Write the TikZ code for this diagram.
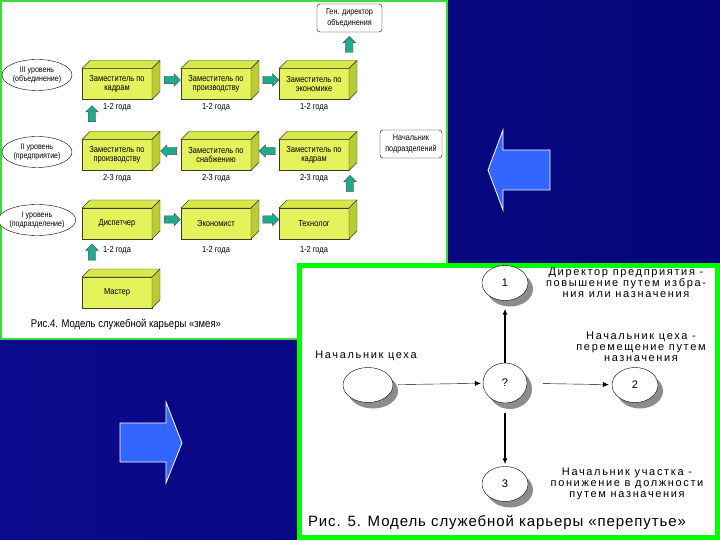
\documentclass[tikz,border=0pt]{standalone}
\usepackage{fontspec}
\setmainfont{Liberation Sans}
\newfontfamily\narrowfont[FakeStretch=0.85]{Liberation Sans}
\newfontfamily\widefont[LetterSpace=15]{Liberation Sans}
\newfontfamily\capfont[LetterSpace=6]{Liberation Sans}
\usetikzlibrary{shapes.geometric}
\usetikzlibrary{shapes.arrows}
\usetikzlibrary{positioning}
\usetikzlibrary{calc}
\usetikzlibrary{shadows}
\usetikzlibrary{arrows.meta}
\definecolor{slideblue}{RGB}{10,10,140}
\definecolor{slidedark}{RGB}{6,6,122}
\definecolor{panelgreen}{RGB}{60,220,60}
\definecolor{framegreen}{RGB}{0,255,0}
\definecolor{boxfront}{RGB}{228,242,92}
\definecolor{boxtop}{RGB}{214,232,74}
\definecolor{boxside}{RGB}{186,204,52}
\definecolor{boxline}{RGB}{60,60,30}
\definecolor{stepgreen}{RGB}{30,170,140}
\definecolor{bigblue}{RGB}{51,102,255}
\tikzset{cuboid/.style = {draw=boxline, fill=boxfront, minimum width=70pt, minimum height=31pt, inner sep=1pt, outer sep=0pt, align=center, font=\narrowfont\fontsize{8.8}{9.5}\selectfont}}
\tikzset{cubeface/.style = {draw=boxline, fill=boxtop}}
\tikzset{cubeside/.style = {draw=boxline, fill=boxside}}
\tikzset{period/.style = {inner sep=1pt, font=\narrowfont\fontsize{8.8}{9.5}\selectfont}}
\tikzset{tier/.style = {draw, ellipse, fill=white, minimum width=70pt, minimum height=31pt, inner sep=0pt, align=center, font=\narrowfont\fontsize{8.3}{9.3}\selectfont}}
\tikzset{post/.style = {draw, fill=white, rounded corners=3pt, minimum height=28pt, inner sep=1pt, align=center, font=\narrowfont\fontsize{8.5}{10.5}\selectfont}}
\tikzset{greenarrow/.style = {single arrow, draw=black!70, fill=stepgreen, minimum height=16pt, single arrow head extend=2.5pt, inner sep=3.5pt}}
\tikzset{post5/.style = {draw, ellipse, fill=white, minimum width=46pt, minimum height=35pt, inner sep=0pt, font=\fontsize{11}{12}\selectfont, drop shadow={shadow xshift=5pt, shadow yshift=-6pt, fill=black!45, opacity=1}}}
\tikzset{link/.style = {-{Latex[length=6pt,width=5pt]}}}
\tikzset{note/.style = {align=center, font=\widefont\fontsize{11}{11}\selectfont}}

\begin{document}
\begin{tikzpicture}[x=1pt, y=-1pt]
	\useasboundingbox (0,0) rectangle (720,540);
	%slide background
	\shade[left color=slideblue, right color=slidedark] (0,0) rectangle (720,540);
	%left panel
	\draw[panelgreen, line width=1.5pt, fill=white] (1,1) rectangle (447,339);

	%levels
	\node[tier] (L3) at (37,75) {III уровень\\(объединение)};
	\node[tier] (L2) at (37,152) {II уровень\\(предприятие)};
	\node[tier] (L1) at (37,220) {I уровень\\(подразделение)};

	%boxes
	\node[cuboid] (k1) at (117,84) {Заместитель по\\кадрам};
	\node[cuboid] (k2) at (216,84) {Заместитель по\\производству};
	\node[cuboid] (k3) at (314,84) {Заместитель по\\экономике};
	\node[cuboid] (p1) at (117,155) {Заместитель по\\производству};
	\node[cuboid] (p2) at (216,155) {Заместитель по\\снабжению};
	\node[cuboid] (p3) at (314,155) {Заместитель по\\кадрам};
	\node[cuboid] (d1) at (117,223.5) {Диспетчер};
	\node[cuboid] (d2) at (216,223.5) {Экономист};
	\node[cuboid] (d3) at (314,223.5) {Технолог};
	\node[cuboid] (m) at (117,292.5) {Мастер};
	\foreach \n in {k1,k2,k3,p1,p2,p3,d1,d2,d3,m}{
		\draw[cubeface] (\n.north west) -- ([shift={(8,-8)}]\n.north west) -- ([shift={(8,-8)}]\n.north east) -- (\n.north east) -- cycle;
		\draw[cubeside] (\n.north east) -- ([shift={(8,-8)}]\n.north east) -- ([shift={(8,-8)}]\n.south east) -- (\n.south east) -- cycle;
	}

	%years
	\node[period, below=3pt of k1] (tk1) {1-2 года};
	\node[period, below=3pt of k2] (tk2) {1-2 года};
	\node[period, below=3pt of k3] (tk3) {1-2 года};
	\node[period, below=3pt of p1] (tp1) {2-3 года};
	\node[period, below=3pt of p2] (tp2) {2-3 года};
	\node[period, below=3pt of p3] (tp3) {2-3 года};
	\node[period, below=6pt of d1] (td1) {1-2 года};
	\node[period, below=6pt of d2] (td2) {1-2 года};
	\node[period, below=6pt of d3] (td3) {1-2 года};

	%top posts
	\node[post, minimum width=65pt] (gd) at (349.5,18) {Ген. директор\\объединения};
	\node[post, minimum width=62pt] (np) at (411,144) {Начальник\\подразделений};

	%green arrows
	\node[greenarrow] (a1) at ($(k1.east)!.5!(k2.west)+(4,-4)$) {};
	\node[greenarrow] (a2) at ($(k2.east)!.5!(k3.west)+(4,-4)$) {};
	\node[greenarrow, shape border rotate=180] (a3) at ($(p1.east)!.5!(p2.west)+(4,-4)$) {};
	\node[greenarrow, shape border rotate=180] (a4) at ($(p2.east)!.5!(p3.west)+(4,-4)$) {};
	\node[greenarrow] (a5) at ($(d1.east)!.5!(d2.west)+(4,-4)$) {};
	\node[greenarrow] (a6) at ($(d2.east)!.5!(d3.west)+(4,-4)$) {};
	\node[greenarrow, shape border rotate=90] (u1) at ($(k1.south west)!.5!(p1.north west)+(10,-4)$) {};
	\node[greenarrow, shape border rotate=90] (u2) at ($(d1.south west)!.5!(m.north west)+(10,-4)$) {};
	\node[greenarrow, shape border rotate=90] (u3) at ($(p3.south east)!.5!(d3.north east)+(1,-4)$) {};
	\node[greenarrow, shape border rotate=90] (u4) at ($(gd.south)!.5!(k3.north east)+(0,-4)$) {};

	\node[font=\narrowfont\fontsize{11.2}{13}\selectfont] (cap4) at (126,325) {Рис.4. Модель служебной карьеры «змея»};

	%blue arrows
	\draw[fill=bigblue, draw=white, line width=0.8pt] (488,170) -- (503,130) -- (503,150) -- (550,150) -- (550,190) -- (503,190) -- (503,210) -- cycle;
	\draw[fill=bigblue, draw=white, line width=0.8pt] (182,443) -- (166,402) -- (166,423) -- (120,423) -- (120,462) -- (166,462) -- (166,483) -- cycle;

	%right panel
	\draw[framegreen, line width=5pt, fill=white] (299.5,265.5) rectangle (717.5,537.5);
	\node[post5] (c1) at (505,283) {1};
	\node[post5, minimum width=44pt, minimum height=40pt] (cq) at (505,383) {?};
	\node[post5] (c2) at (635,385) {2};
	\node[post5] (c3) at (505,484) {3};
	\node[post5, minimum width=50pt] (c0) at (368,385) {};
	\draw[link, shorten <=5pt, shorten >=2pt] (c0) -- (cq);
	\draw[link, shorten <=16pt, shorten >=3pt] (cq) -- (c2);
	\draw[link, line width=1.5pt, shorten >=8pt] (cq) -- (c1);
	\draw[link, line width=1.5pt, shorten <=10pt, shorten >=2pt] (cq) -- (c3);

	\node[note] (n1) at (626,283) {Директор предприятия -\\повышение путем избра-\\ния или назначения};
	\node[note] (n2) at (641,347) {Начальник цеха -\\перемещение путем\\назначения};
	\node[note] (n3) at (627,484) {Начальник участка -\\понижение в должности\\путем назначения};
	\node[note] (n0) at (366,356) {Начальник цеха};
	\node[font=\capfont\fontsize{15}{17}\selectfont] (cap5) at (497,522) {Рис. 5. Модель служебной карьеры «перепутье»};
\end{tikzpicture}
\end{document}
